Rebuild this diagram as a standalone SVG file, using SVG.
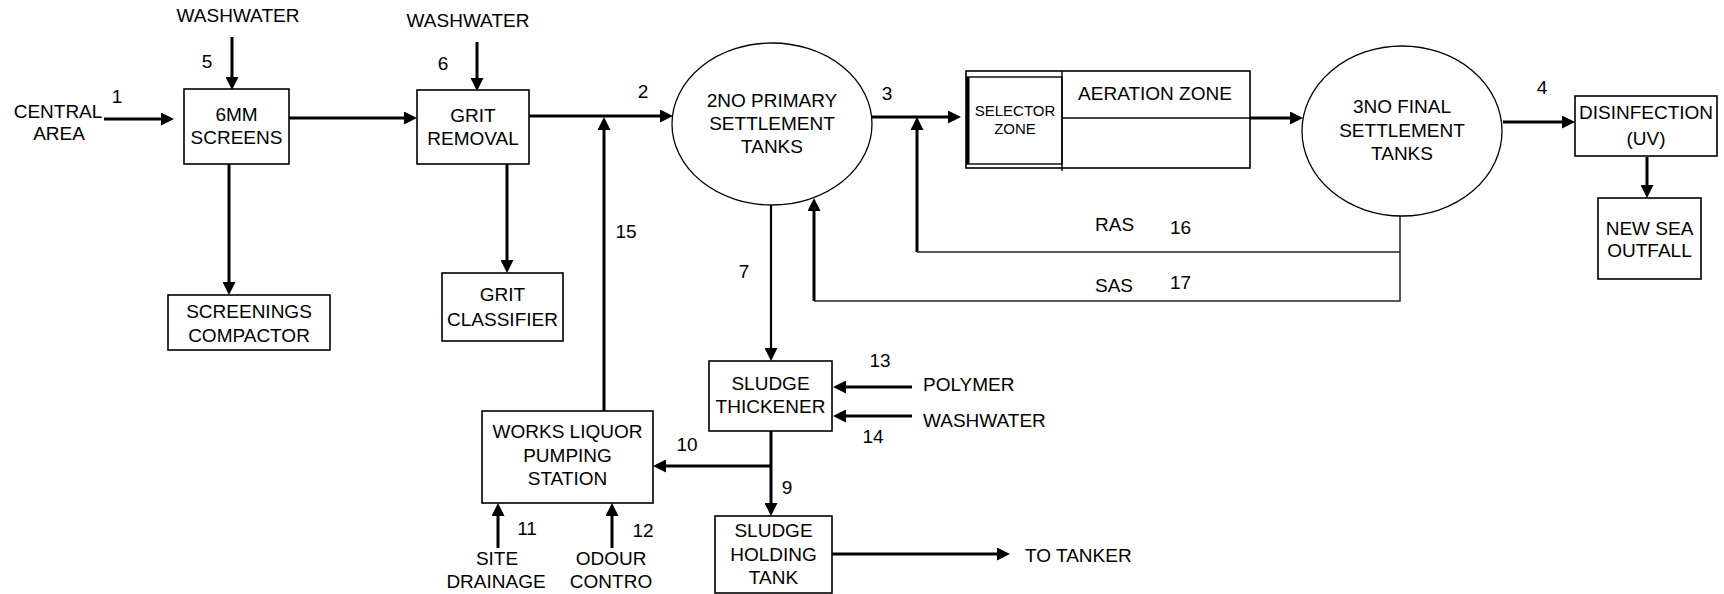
<svg xmlns="http://www.w3.org/2000/svg" width="1724" height="594" viewBox="0 0 1724 594">
<defs>
<style>
text{font-family:"Liberation Sans",Arial,sans-serif;font-size:19px;fill:#000}
.m{text-anchor:middle}
.sm{font-size:15px}
.box{fill:#fff;stroke:#000;stroke-width:1.6}
.ell{fill:#fff;stroke:#000;stroke-width:1.3}
.thk{fill:none;stroke:#000;stroke-width:3}
.med{fill:none;stroke:#000;stroke-width:2.2}
.thn{fill:none;stroke:#222;stroke-width:1.5}
.arr{marker-end:url(#ah)}
</style>
<marker id="ah" markerUnits="userSpaceOnUse" markerWidth="13" markerHeight="13" refX="5" refY="6.5" orient="auto">
<path d="M0,0 L13,6.5 L0,13 z" fill="#000"/>
</marker>
</defs>
<rect width="1724" height="594" fill="#fff"/>

<g id="connectors">
<line class="thk arr" x1="104" y1="119" x2="166" y2="119"/>
<line class="thk arr" x1="232" y1="37" x2="232" y2="82"/>
<line class="thk arr" x1="289" y1="118" x2="409" y2="118"/>
<line class="thk arr" x1="477" y1="42" x2="477" y2="83"/>
<line class="thk arr" x1="529" y1="116" x2="665" y2="116"/>
<line class="thk arr" x1="604" y1="411" x2="604" y2="125"/>
<line class="thk arr" x1="872" y1="117" x2="953" y2="117"/>
<line class="thk arr" x1="917" y1="252" x2="917" y2="125"/>
<line class="thn" x1="917" y1="252" x2="1400" y2="252"/>
<line class="thk arr" x1="1246" y1="118" x2="1295" y2="118"/>
<line class="thk arr" x1="1503" y1="122" x2="1567" y2="122"/>
<line class="thk arr" x1="1647" y1="157" x2="1647" y2="190"/>
<polyline class="thn" points="1400,216 1400,301 814,301"/>
<line class="thk arr" x1="814" y1="301" x2="814" y2="206"/>
<line class="thk arr" x1="229" y1="164" x2="229" y2="287"/>
<line class="thk arr" x1="507" y1="164" x2="507" y2="265"/>
<line class="med arr" x1="771" y1="205" x2="771" y2="353"/>
<line class="thk arr" x1="912" y1="387" x2="841" y2="387"/>
<line class="thk arr" x1="912" y1="416" x2="841" y2="416"/>
<line class="thk arr" x1="771" y1="466" x2="661" y2="466"/>
<line class="thk arr" x1="771" y1="431" x2="771" y2="508"/>
<line class="thk arr" x1="498" y1="548" x2="498" y2="511"/>
<line class="thk arr" x1="612" y1="548" x2="612" y2="511"/>
<line class="thk arr" x1="832" y1="554" x2="1002" y2="554"/>
</g>

<g id="labels">
<text class="m" x="58" y="118">CENTRAL</text>
<text class="m" x="59" y="140">AREA</text>
<text class="m" x="117" y="103">1</text>
<text class="m" x="238" y="22">WASHWATER</text>
<text class="m" x="207" y="68">5</text>
<text class="m" x="468" y="27">WASHWATER</text>
<text class="m" x="443" y="70">6</text>
<text class="m" x="643" y="98">2</text>
<text class="m" x="887" y="100">3</text>
<text class="m" x="1542" y="94">4</text>
<text class="m" x="626" y="238">15</text>
<text class="m" x="744" y="278">7</text>
<text x="1095" y="231">RAS</text>
<text x="1170" y="234">16</text>
<text x="1095" y="292">SAS</text>
<text x="1170" y="289">17</text>
<text class="m" x="880" y="367">13</text>
<text class="m" x="873" y="443">14</text>
<text x="923" y="391">POLYMER</text>
<text x="923" y="427">WASHWATER</text>
<text class="m" x="687" y="451">10</text>
<text class="m" x="787" y="494">9</text>
<text class="m" x="527" y="535">11</text>
<text class="m" x="643" y="537">12</text>
<text class="m" x="497" y="565">SITE</text>
<text class="m" x="496" y="588">DRAINAGE</text>
<text class="m" x="611" y="565">ODOUR</text>
<text class="m" x="611" y="588">CONTRO</text>
<text x="1025" y="562">TO TANKER</text>
</g>

<g id="screens">
<rect class="box" x="184" y="89" width="105" height="75"/>
<text class="m" x="236.5" y="121">6MM</text>
<text class="m" x="236.5" y="144">SCREENS</text>
</g>

<g id="grit-removal">
<rect class="box" x="417" y="90" width="112" height="74"/>
<text class="m" x="473" y="122">GRIT</text>
<text class="m" x="473" y="145">REMOVAL</text>
</g>

<g id="primary-settlement">
<ellipse class="ell" cx="772" cy="124" rx="100" ry="81"/>
<text class="m" x="772" y="107">2NO PRIMARY</text>
<text class="m" x="772" y="130">SETTLEMENT</text>
<text class="m" x="772" y="153">TANKS</text>
</g>

<g id="aeration">
<rect class="box" x="966" y="71" width="284" height="97"/>
<rect fill="none" stroke="#000" stroke-width="1.4" x="967" y="77" width="95" height="87"/>
<line stroke="#000" stroke-width="3" x1="968" y1="77" x2="968" y2="164"/>
<line stroke="#000" stroke-width="1.4" x1="1062" y1="71" x2="1062" y2="171"/>
<line stroke="#000" stroke-width="1.4" x1="1062" y1="118" x2="1250" y2="118"/>
<text class="m" x="1155" y="100">AERATION ZONE</text>
<text class="m sm" x="1015" y="116">SELECTOR</text>
<text class="m sm" x="1015" y="134">ZONE</text>
</g>

<g id="final-settlement">
<ellipse class="ell" cx="1402" cy="131" rx="100" ry="85"/>
<text class="m" x="1402" y="113">3NO FINAL</text>
<text class="m" x="1402" y="137">SETTLEMENT</text>
<text class="m" x="1402" y="160">TANKS</text>
</g>

<g id="disinfection">
<rect class="box" x="1575" y="96" width="142" height="60"/>
<text class="m" x="1646" y="119">DISINFECTION</text>
<text class="m" x="1646" y="145">(UV)</text>
</g>

<g id="sea-outfall">
<rect class="box" x="1598" y="198" width="103" height="81"/>
<text class="m" x="1649.5" y="235">NEW SEA</text>
<text class="m" x="1649.5" y="257">OUTFALL</text>
</g>

<g id="screenings-compactor">
<rect class="box" x="168" y="295" width="162" height="55"/>
<text class="m" x="249" y="318">SCREENINGS</text>
<text class="m" x="249" y="342">COMPACTOR</text>
</g>

<g id="grit-classifier">
<rect class="box" x="442" y="273" width="121" height="68"/>
<text class="m" x="502.5" y="301">GRIT</text>
<text class="m" x="502.5" y="326">CLASSIFIER</text>
</g>

<g id="sludge-thickener">
<rect class="box" x="709" y="361" width="123" height="70"/>
<text class="m" x="770.5" y="390">SLUDGE</text>
<text class="m" x="770.5" y="413">THICKENER</text>
</g>

<g id="works-liquor">
<rect class="box" x="482" y="411" width="171" height="92"/>
<text class="m" x="567.5" y="438">WORKS LIQUOR</text>
<text class="m" x="567.5" y="462">PUMPING</text>
<text class="m" x="567.5" y="485">STATION</text>
</g>

<g id="sludge-holding">
<rect class="box" x="715" y="516" width="117" height="77"/>
<text class="m" x="773.5" y="537">SLUDGE</text>
<text class="m" x="773.5" y="561">HOLDING</text>
<text class="m" x="773.5" y="584">TANK</text>
</g>
</svg>
